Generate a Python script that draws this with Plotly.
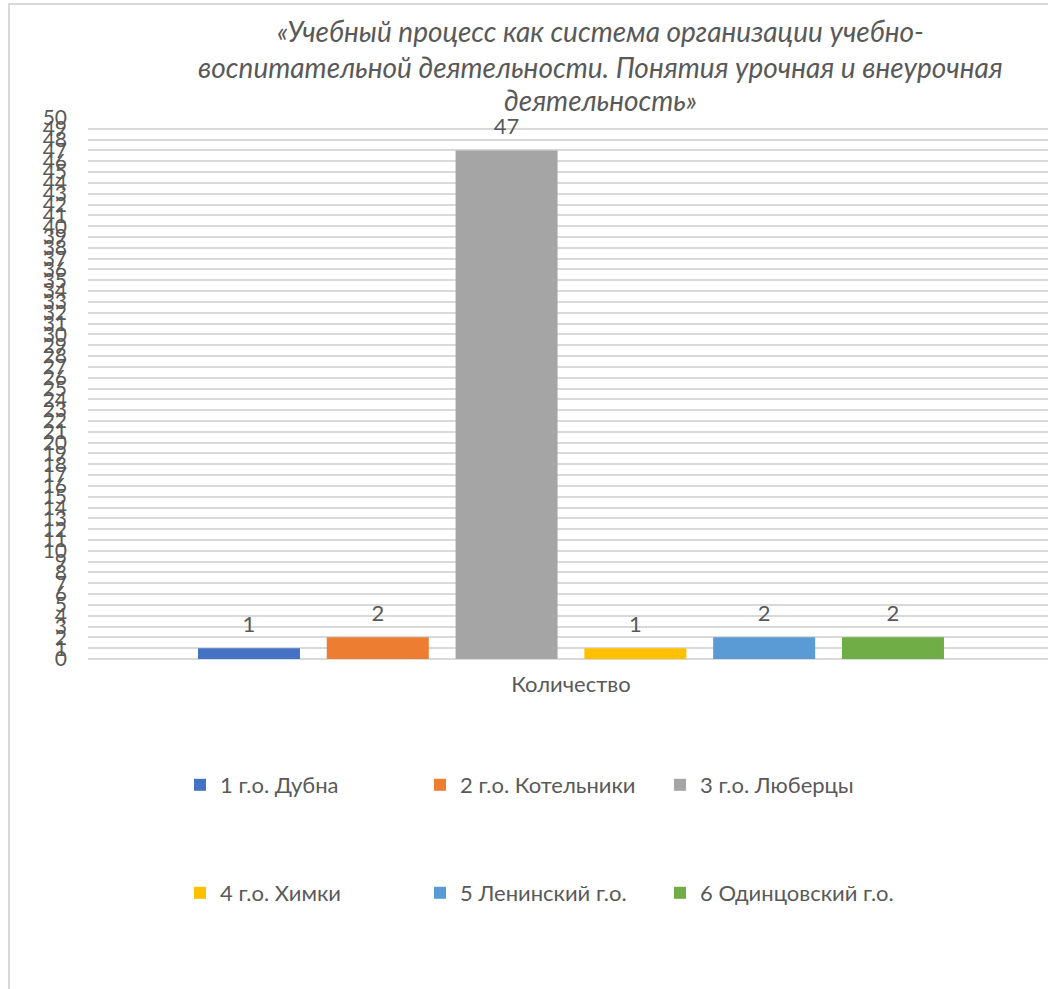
import plotly.graph_objects as go

category = ["Количество"]
series_names = ["1 г.о. Дубна", "2 г.о. Котельники", "3 г.о. Люберцы",
                "4 г.о. Химки", "5 Ленинский г.о.", "6 Одинцовский г.о."]
series_values = [1, 2, 47, 1, 2, 2]
colors = ["#4472C4", "#ED7D31", "#A5A5A5", "#FFC000", "#5B9BD5", "#70AD47"]
title_lines = ["«Учебный процесс как система организации учебно-",
               "воспитательной деятельности. Понятия урочная и внеурочная",
               "деятельность»"]
y_ticks = list(range(0, 51))

FONT = "Lato"
GREY = "#595959"

W, H = 1048, 989
ML, MR, MT, MB = 88, 0, 118, 330
plot_w = W - ML - MR
plot_h = H - MT - MB
BARGAP = 0.195


def py_to_paper(py):
    return (H - MB - py) / plot_h


def px_to_paper(px):
    return (px - ML) / plot_w


fig = go.Figure()
for i, (name, val) in enumerate(zip(series_names, series_values)):
    fig.add_trace(go.Bar(
        x=category, y=[val], name=name,
        marker=dict(color=colors[i], line=dict(width=0)),
        legend="legend" if i < 3 else "legend2",
        hoverinfo="name+y",
    ))
# value labels, grouped the same way as the bars
for i, val in enumerate(series_values):
    fig.add_trace(go.Scatter(
        x=category, y=[val], mode="markers+text",
        text=[str(val)], textposition="top center",
        textfont=dict(family=FONT, size=22, color=GREY),
        marker=dict(size=16, color="rgba(0,0,0,0)"),
        showlegend=False, hoverinfo="skip", cliponaxis=False,
    ))

annotations = []
for line, y in zip(title_lines, [31, 67, 100]):
    annotations.append(dict(
        text=line, xref="paper", yref="paper",
        x=px_to_paper(600), y=py_to_paper(y), xanchor="center", yanchor="middle",
        showarrow=False,
        font=dict(family=FONT, size=28, color=GREY, style="italic"),
    ))

legend_common = dict(
    orientation="h", xanchor="left", yanchor="middle",
    entrywidth=195, entrywidthmode="pixels",
    font=dict(family=FONT, size=22, color=GREY),
    bgcolor="rgba(0,0,0,0)", itemclick=False,
)

fig.update_layout(
    width=W, height=H,
    margin=dict(l=ML, r=MR, t=MT, b=MB, pad=0),
    paper_bgcolor="white", plot_bgcolor="white",
    barmode="group", bargap=BARGAP, bargroupgap=0.208,
    scattermode="group", scattergap=BARGAP,
    showlegend=True,
    legend=dict(x=px_to_paper(180), y=py_to_paper(785), **legend_common),
    legend2=dict(x=px_to_paper(180), y=py_to_paper(893), **legend_common),
    annotations=annotations,
    shapes=[dict(type="rect", xref="paper", yref="paper",
                 x0=px_to_paper(9), x1=px_to_paper(1080),
                 y0=py_to_paper(1010), y1=py_to_paper(4),
                 line=dict(color="#d9d9d9", width=2), layer="below")],
    font=dict(family=FONT, color=GREY),
)

fig.update_xaxes(
    range=[-0.5031, 0.4969],
    showgrid=False, showline=False, zeroline=False, ticks="",
    tickfont=dict(family=FONT, size=22, color=GREY),
    ticklabelstandoff=10,
)
fig.update_yaxes(
    range=[0, 50], tickmode="array", tickvals=y_ticks,
    ticktext=[str(v) for v in y_ticks],
    showgrid=True, gridcolor="#d9d9d9", gridwidth=2,
    zeroline=True, zerolinecolor="#d9d9d9", zerolinewidth=2,
    showline=False, ticks="",
    tickfont=dict(family=FONT, size=21, color=GREY),
    ticklabelstandoff=20,
)

fig.write_html("out.html", config={"displayModeBar": False},
               post_script="document.body.style.margin='0';")
